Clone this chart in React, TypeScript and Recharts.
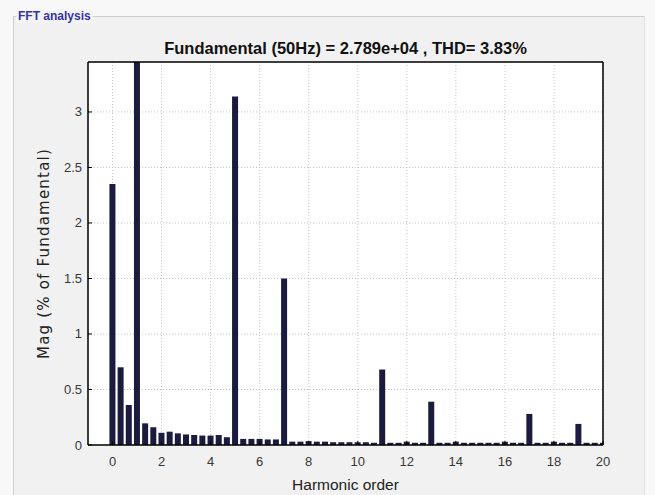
import React from 'react';
import { BarChart, Bar, XAxis, YAxis, CartesianGrid, Label } from 'recharts';

// FFT bins: resolution is 1/3 of the fundamental (50/3 Hz)
const binsPerHarmonic = 3;

// magnitude in % of fundamental, one entry per bin (bin 3 = fundamental)
const magnitudes = [
  2.35, 0.7, 0.36, 100, 0.195, 0.16, 0.11, 0.12, 0.105, 0.095,
  0.09, 0.085, 0.085, 0.09, 0.07, 3.14, 0.055, 0.055, 0.055, 0.05,
  0.05, 1.5, 0.03, 0.03, 0.035, 0.03, 0.03, 0.025, 0.025, 0.025,
  0.025, 0.025, 0.02, 0.68, 0.02, 0.02, 0.03, 0.02, 0.02, 0.39,
  0.02, 0.02, 0.03, 0.02, 0.02, 0.02, 0.02, 0.02, 0.03, 0.02,
  0.02, 0.28, 0.02, 0.02, 0.03, 0.02, 0.02, 0.19, 0.02, 0.02,
  0.02,
];

const xTicks = [0, 2, 4, 6, 8, 10, 12, 14, 16, 18, 20];
const yTicks = [0, 0.5, 1, 1.5, 2, 2.5, 3];
const xDomain = [-1, 20];
const yDomain = [0, 3.45];

const data = magnitudes.map((mag, i) => ({ order: i / binsPerHarmonic, mag }));

const FONT = '"Liberation Sans", Arial, sans-serif';
const WIDE_FONT = '"DejaVu Sans", Verdana, sans-serif';
const BAR_COLOR = '#1b1b3f';

// bottom axis tick: label below, small tick pointing into the plot
const BottomTick = (props: any) => {
  const { x, y, payload } = props;
  const axisY = y - 11;
  return (
    <g>
      <line x1={x} x2={x} y1={axisY} y2={axisY - 4} stroke="#000" />
      <text x={x} y={y} dy={10} textAnchor="middle" fontSize={13} fill="#383838" fontFamily={FONT}>
        {payload.value}
      </text>
    </g>
  );
};

const LeftTick = (props: any) => {
  const { x, y, payload } = props;
  const axisX = x + 6;
  return (
    <g>
      <line x1={axisX} x2={axisX + 4} y1={y} y2={y} stroke="#000" />
      <text x={x} y={y} dy={4.5} textAnchor="end" fontSize={13} fill="#383838" fontFamily={FONT}>
        {payload.value}
      </text>
    </g>
  );
};

export default function App() {
  return (
    <div
      style={{
        position: 'absolute',
        left: 0,
        top: 0,
        width: 655,
        height: 495,
        background: '#f8f8f8',
        overflow: 'hidden',
        fontFamily: FONT,
      }}
    >
      {/* group box */}
      <div
        style={{
          position: 'absolute',
          left: 13,
          top: 16,
          width: 630,
          height: 500,
          borderTop: '1px solid #cfcfcf',
          borderLeft: '1px solid #cfcfcf',
          borderRight: '1px solid #e4e4e4',
          background: '#f1f1f1',
        }}
      />
      <div
        style={{
          position: 'absolute',
          left: 16,
          top: 10,
          padding: '0 2px',
          fontSize: 12,
          fontWeight: 'bold',
          color: '#3434a8',
          background: '#f4f4f4',
          lineHeight: '13px',
        }}
      >
        FFT analysis
      </div>
      <div
        style={{
          position: 'absolute',
          left: 88,
          width: 515,
          top: 39,
          textAlign: 'center',
          fontSize: 16.5,
          fontWeight: 'bold',
          color: '#111',
          lineHeight: '19px',
        }}
      >
        Fundamental (50Hz) = 2.789e+04 , THD= 3.83%
      </div>

      <div style={{ position: 'absolute', left: 0, top: 0 }}>
        <BarChart
          width={655}
          height={495}
          data={data}
          margin={{ top: 62, right: 52, bottom: 0, left: 28 }}
        >
          <CartesianGrid
            stroke="#c4c4c4"
            strokeDasharray="1 2"
            fill="#ffffff"
            fillOpacity={1}
          />
          <XAxis
            dataKey="order"
            type="number"
            domain={xDomain}
            ticks={xTicks}
            allowDataOverflow
            height={50}
            tickSize={6}
            tickMargin={5}
            tickLine={false}
            axisLine={{ stroke: '#000', strokeWidth: 1.5 }}
            tick={<BottomTick />}
            interval={0}
          >
            <Label
              value="Harmonic order"
              position="insideBottom"
              offset={5}
              fontSize={15.5}
              fill="#222"
              fontFamily={FONT}
            />
          </XAxis>
          <XAxis
            xAxisId="top"
            orientation="top"
            dataKey="order"
            type="number"
            domain={xDomain}
            ticks={xTicks}
            allowDataOverflow
            mirror
            tick={false}
            tickSize={4}
            tickLine={{ stroke: '#000' }}
            axisLine={{ stroke: '#000', strokeWidth: 1.5 }}
          />
          <YAxis
            type="number"
            domain={yDomain}
            ticks={yTicks}
            allowDataOverflow
            width={60}
            tickSize={4}
            tickMargin={2}
            tickLine={false}
            axisLine={{ stroke: '#000', strokeWidth: 1.5 }}
            tick={<LeftTick />}
            interval={0}
          >
            <Label
              value="Mag (% of Fundamental)"
              angle={-90}
              position="insideLeft"
              offset={16}
              fontSize={15}
              fill="#222"
              fontFamily={WIDE_FONT}
              style={{ textAnchor: 'middle', letterSpacing: 1.2 }}
            />
          </YAxis>
          <YAxis
            yAxisId="right"
            orientation="right"
            type="number"
            domain={yDomain}
            ticks={yTicks}
            allowDataOverflow
            mirror
            tick={false}
            tickSize={4}
            tickLine={{ stroke: '#000' }}
            axisLine={{ stroke: '#000', strokeWidth: 1.5 }}
          />
          <Bar dataKey="mag" fill={BAR_COLOR} barSize={6} isAnimationActive={false} />
        </BarChart>
      </div>
    </div>
  );
}
